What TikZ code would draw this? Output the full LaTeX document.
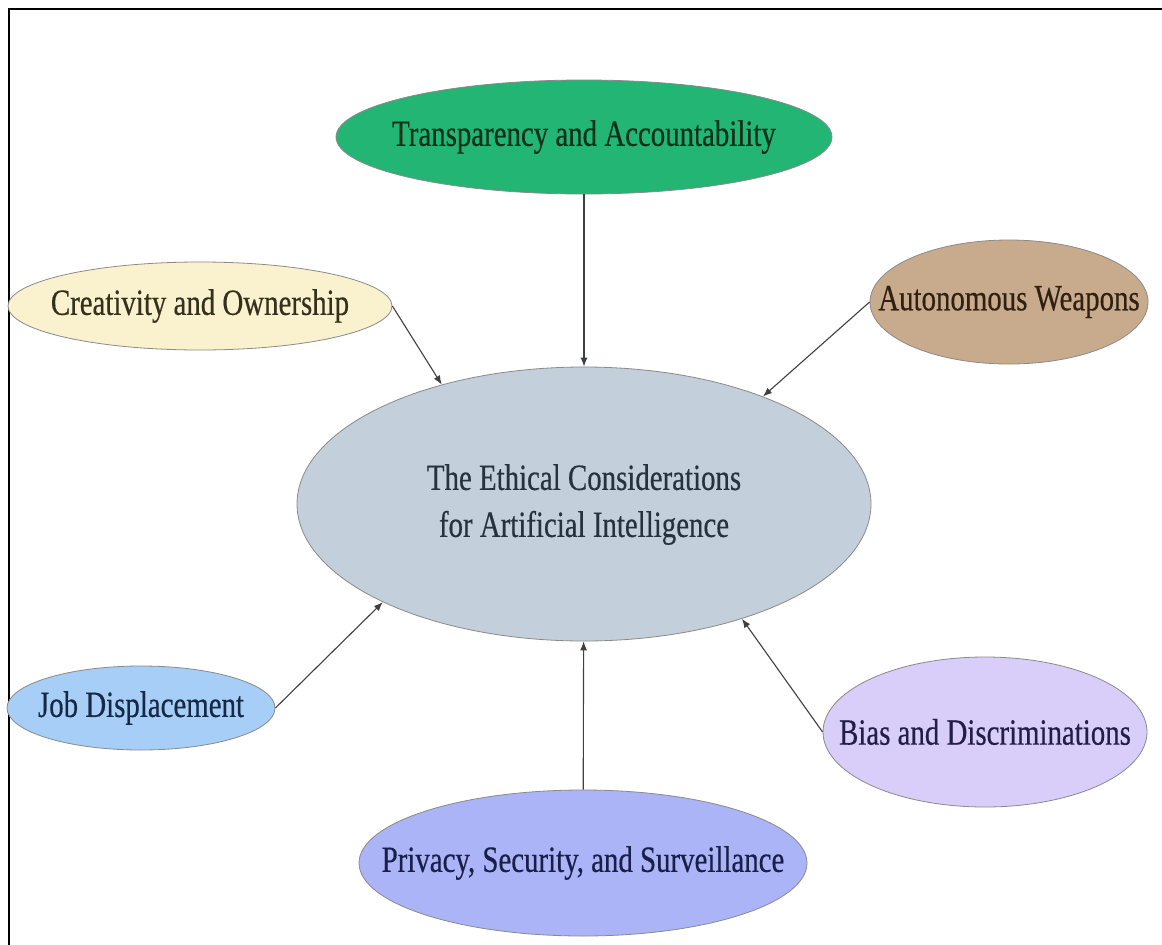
\documentclass[tikz,border=0pt]{standalone}
\usepackage{fontspec}
\setmainfont{Liberation Serif}
\newfontfamily\lblfont[FakeStretch=0.78,FakeBold=0.4]{Liberation Serif}
\usetikzlibrary{shapes.geometric,arrows.meta}
\definecolor{edgegray}{HTML}{8A8A8A}
\definecolor{arrowgray}{HTML}{404040}
\definecolor{ctrfill}{HTML}{C3CFDA}
\definecolor{ctrtxt}{HTML}{26323C}
\definecolor{trfill}{HTML}{22B573}
\definecolor{trtxt}{HTML}{0A3219}
\definecolor{crfill}{HTML}{FAF1CF}
\definecolor{crtxt}{HTML}{35301C}
\definecolor{awfill}{HTML}{C8AB8D}
\definecolor{awtxt}{HTML}{302012}
\definecolor{jdfill}{HTML}{A7CEF6}
\definecolor{jdtxt}{HTML}{152845}
\definecolor{prfill}{HTML}{AAB4F6}
\definecolor{prtxt}{HTML}{181F48}
\definecolor{bdfill}{HTML}{D9CEF9}
\definecolor{bdtxt}{HTML}{241D48}
\newcommand\zw[1]{\makebox[0pt]{#1}}
\tikzset{
  bub/.style 2 args={ellipse, draw=edgegray, line width=0.8pt, fill=#1, text=#2,
    inner sep=0pt, font=\lblfont\fontsize{37}{47}\selectfont},
  conn/.style={draw=arrowgray, line width=1.1pt, -{Latex[length=9pt,width=7pt]}},
  framel/.style={draw=black, line width=2pt}
}
\begin{document}
\begin{tikzpicture}[x=1pt,y=-1pt]
\useasboundingbox (0,0) rectangle (1162,945);
\fill[white] (0,0) rectangle (1162,945);
\draw[framel] (9,946) -- (9,9) -- (1163,9);

\node[bub={ctrfill}{ctrtxt}, minimum width=574pt, minimum height=274pt] (ce) at (584,504)
  {\zw{\begin{tabular}{@{}c@{}}The Ethical Considerations\\for Artificial Intelligence\end{tabular}}};
\node[bub={trfill}{trtxt}, minimum width=496pt, minimum height=114pt] (tr) at (584,137)
  {\zw{Transparency and Accountability}};
\node[bub={crfill}{crtxt}, minimum width=384pt, minimum height=88pt] (cr) at (200,306)
  {\zw{Creativity and Ownership}};
\node[bub={awfill}{awtxt}, minimum width=278pt, minimum height=124pt] (aw) at (1009,302)
  {\zw{Autonomous Weapons}};
\node[bub={jdfill}{jdtxt}, minimum width=268pt, minimum height=84pt] (jd) at (141,708)
  {\zw{Job Displacement}};
\node[bub={prfill}{prtxt}, minimum width=448pt, minimum height=146pt] (pr) at (583,863)
  {\zw{Privacy, Security, and Surveillance}};
\node[bub={bdfill}{bdtxt}, minimum width=324pt, minimum height=150pt] (bd) at (985,732)
  {\zw{Bias and Discriminations}};

\draw[conn] (tr) -- (ce);
\draw[conn] (cr.east) -- (ce.140.9);
\draw[conn] (aw.west) -- (ce.31.5);
\draw[conn] (jd.east) -- (ce.206.7);
\draw[conn] (pr) -- (ce);
\draw[conn] (bd.west) -- (ce.324.2);
\end{tikzpicture}
\end{document}
